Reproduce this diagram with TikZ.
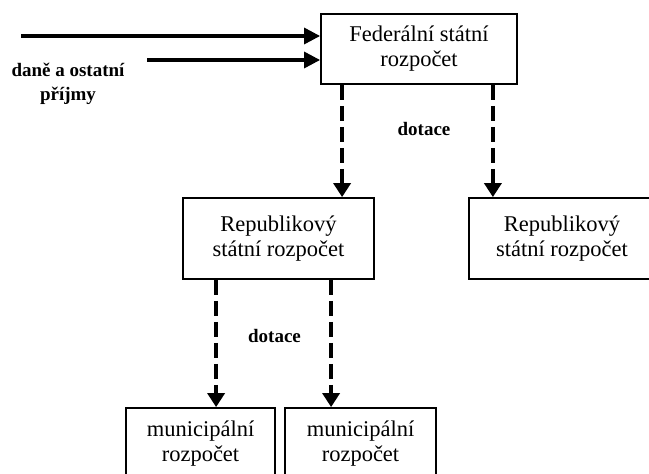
\documentclass[tikz,border=0pt]{standalone}
\usepackage{fontspec}
\setmainfont{Liberation Serif}
\usetikzlibrary{arrows.meta}
\begin{document}
\begin{tikzpicture}[x=1pt,y=-1pt,
  box/.style={draw=black, line width=1.8pt, fill=white, align=center, inner sep=0pt,
    font=\fontsize{22.5}{25}\selectfont},
  lbl/.style={align=center, inner sep=0pt, font=\fontsize{19}{24}\selectfont\bfseries},
  solidarrow/.style={line width=3.2pt, -{Triangle[length=16pt,width=16pt]}},
  dasharrow/.style={line width=4pt, dash pattern=on 15pt off 6pt, -{Triangle[length=14pt,width=17pt]}}
]
\useasboundingbox (0,0) rectangle (649,474);
\fill[white] (0,0) rectangle (649,474);
\clip (0,0) rectangle (649,474);

\node[box, minimum width=196pt, minimum height=70pt] (fed) at (419,49) {Federální státní\\rozpočet};
\node[box, minimum width=191pt, minimum height=81pt] (repL) at (278.5,238.5) {Republikový\\státní rozpočet};
\node[box, minimum width=186pt, minimum height=81pt] (repR) at (562,238.5) {Republikový\\státní rozpočet};
\node[box, minimum width=149pt, minimum height=72pt] (munL) at (200.5,444) {municipální\\rozpočet};
\node[box, minimum width=151pt, minimum height=72pt] (munR) at (360.5,444) {municipální\\rozpočet};

\node[lbl] (prijmy) at (68,84) {daně a ostatní\\příjmy};
\node[lbl] (dot1) at (424,129) {dotace};
\node[lbl] (dot2) at (274.5,336) {dotace};

\coordinate (s1) at (21,36);
\coordinate (s2) at (147,60);
\draw[solidarrow] (s1) -- (s1 -| fed.west);
\draw[solidarrow] (s2) -- (s2 -| fed.west);

\draw[dasharrow] ([xshift=22pt]fed.south west) -- ([xshift=22pt]fed.south west |- repL.north);
\draw[dasharrow] ([xshift=-25pt]fed.south east) -- ([xshift=-25pt]fed.south east |- repR.north);
\draw[dasharrow] ([xshift=34pt]repL.south west) -- ([xshift=34pt]repL.south west |- munL.north);
\draw[dasharrow] ([xshift=149pt]repL.south west) -- ([xshift=149pt]repL.south west |- munR.north);
\end{tikzpicture}
\end{document}
